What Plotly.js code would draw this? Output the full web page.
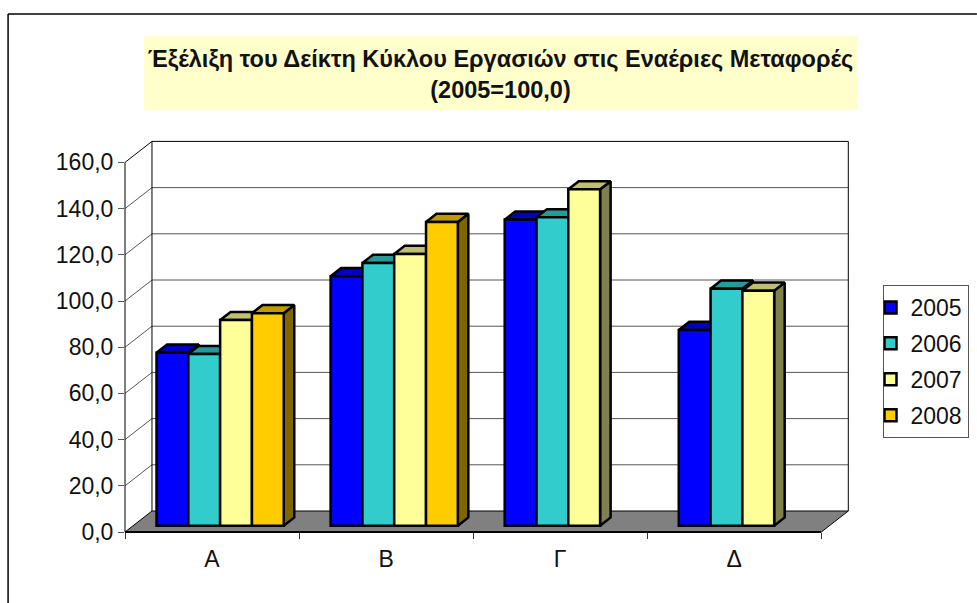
<!DOCTYPE html>
<html>
<head>
<meta charset="utf-8">
<script src="https://cdn.plot.ly/plotly-3.0.1.min.js"></script>
<style>html,body{margin:0;padding:0;background:#fff;overflow:hidden}#chart{width:977px;height:603px}</style>
</head>
<body>
<div id="chart"></div>
<script>
var categories = ['Α', 'Β', 'Γ', 'Δ'];
var seriesNames = ['2005', '2006', '2007', '2008'];
var values2005 = [74.9, 108.0, 132.5, 84.7];
var values2006 = [74.3, 113.7, 133.5, 102.6];
var values2007 = [89.0, 117.6, 145.6, 101.7];
var values2008 = [92.0, 131.5, null, null];
var frontColors = ['#0000FF', '#33CCCC', '#FFFF99', '#FFCC00'];
var topColors = ['#0000BF', '#269999', '#BFBF73', '#BF9900'];
var sideColors = ['#000080', '#1A6666', '#80804D', '#806600'];
var yTicks = [0, 20, 40, 60, 80, 100, 120, 140, 160];
var titleText = 'Έξέλιξη του Δείκτη Κύκλου Εργασιών στις Εναέριες Μεταφορές<br>(2005=100,0)';

// Plot frame in pixels (a little larger than the drawn walls so that no line is clipped)
var W = 977, H = 603, L = 124.5, R = 852, T = 139, B = 532;
var pxPerCat = 174.2, pxPerVal = 2.31;
var xMin = -0.5, xMax = xMin + (R - L) / pxPerCat, yMax = (B - T) / pxPerVal;
// Oblique projection of the depth axis, in data units
var depthX = 27 / pxPerCat, depthY = 21 / pxPerVal;
var floorStart = 0.30, floorDepth = 0.39;
var groupWidth = 127.3 / pxPerCat, slotWidth = groupWidth / 4;
var xWall = categories.length - 0.5 + depthX;

function px(x) { return (x - L) / (R - L); }
function py(y) { return (B - y) / (B - T); }

var allValues = [values2005, values2006, values2007, values2008];
var traces = [];
var wallColor = '#000000', gridColor = '#555555';
var edgeWidth = 2.5;

// Floor
traces.push({
  type: 'scatter', mode: 'lines', xaxis: 'x', yaxis: 'y', showlegend: false, hoverinfo: 'skip', cliponaxis: false,
  x: [xMin, categories.length - 0.5, xWall, xMin + depthX, xMin],
  y: [0, 0, depthY, depthY, 0], fill: 'toself', fillcolor: '#808080', line: { color: '#808080', width: 0 }
});
// Gridlines on both walls
yTicks.forEach(function (v) {
  if (v === 0) return;
  traces.push({
    type: 'scatter', mode: 'lines', xaxis: 'x', yaxis: 'y', showlegend: false, hoverinfo: 'skip', cliponaxis: false,
    x: [xMin, xMin + depthX, xWall], y: [v, v + depthY, v + depthY],
    line: { color: v === 160 ? wallColor : gridColor, width: 1 }
  });
});
// Wall outlines
traces.push({
  type: 'scatter', mode: 'lines', xaxis: 'x', yaxis: 'y', showlegend: false, hoverinfo: 'skip', cliponaxis: false,
  x: [xMin + depthX, xMin + depthX, null, xWall, xWall, null, xMin, xMin + depthX, xWall, categories.length - 0.5],
  y: [depthY, 160 + depthY, null, depthY, 160 + depthY, null, 0, depthY, depthY, 0],
  line: { color: wallColor, width: 1 }
});

var baseVal = floorStart * depthY;
var shiftX = floorStart * depthX;
var barDx = floorDepth * depthX, barDy = floorDepth * depthY;

// Top and side faces, painted left to right under the front faces
categories.forEach(function (c, ci) {
  allValues.forEach(function (vals, si) {
    var v = vals[ci];
    if (v === null) return;
    var left = ci + shiftX - groupWidth / 2 + si * slotWidth;
    var right = left + slotWidth;
    var top = baseVal + v;
    traces.push({
      type: 'scatter', mode: 'lines', xaxis: 'x2', yaxis: 'y', showlegend: false, hoverinfo: 'skip', cliponaxis: false,
      x: [right, right + barDx, right + barDx, right, right],
      y: [baseVal, baseVal + barDy, top + barDy, top, baseVal],
      fill: 'toself', fillcolor: sideColors[si], line: { color: '#000', width: edgeWidth }
    });
    traces.push({
      type: 'scatter', mode: 'lines', xaxis: 'x2', yaxis: 'y', showlegend: false, hoverinfo: 'skip', cliponaxis: false,
      x: [left, right, right + barDx, left + barDx, left],
      y: [top, top, top + barDy, top + barDy, top],
      fill: 'toself', fillcolor: topColors[si], line: { color: '#000', width: edgeWidth }
    });
  });
});

// Front faces
allValues.forEach(function (vals, si) {
  traces.push({
    type: 'bar', name: seriesNames[si], xaxis: 'x3', yaxis: 'y', legendgroup: seriesNames[si],
    x: categories.map(function (c, i) { return i + shiftX; }),
    y: vals, base: baseVal, cliponaxis: false,
    marker: { color: frontColors[si], line: { color: '#000', width: edgeWidth } }
  });
});

var tickFont = { family: 'Liberation Sans, Arial, sans-serif', size: 23, color: '#111' };
var layout = {
  width: W, height: H, autosize: false,
  paper_bgcolor: '#fff', plot_bgcolor: 'rgba(0,0,0,0)',
  margin: { l: L, r: W - R, t: T, b: H - B, pad: 0 },
  separators: ',.',
  barmode: 'group', bargap: 1 - groupWidth, bargroupgap: 0,
  title: {
    text: titleText, x: 500.5 / W, xanchor: 'center', y: 1 - 67 / H, yanchor: 'middle',
    font: { family: 'Liberation Sans, Arial, sans-serif', size: 23.5, color: '#111', weight: 'bold' }
  },
  xaxis: {
    type: 'linear', range: [xMin, xMax], anchor: 'y', showgrid: false, zeroline: false, showline: false,
    tickmode: 'array', tickvals: categories.map(function (c, i) { return i - 0.5; }).concat([categories.length - 0.5]),
    ticktext: ['', '', '', '', ''], ticks: 'outside', ticklen: 6, tickwidth: 1, tickcolor: '#333'
  },
  xaxis2: { type: 'linear', range: [xMin, xMax], overlaying: 'x', anchor: 'y', visible: false },
  xaxis3: {
    type: 'linear', range: [xMin, xMax], overlaying: 'x', anchor: 'y', showgrid: false, zeroline: false, showline: false,
    tickmode: 'array', tickvals: categories.map(function (c, i) { return i; }), ticktext: categories,
    ticks: 'outside', ticklen: 6, tickcolor: 'rgba(0,0,0,0)', tickfont: tickFont
  },
  yaxis: {
    range: [0, yMax], showgrid: false, zeroline: false, showline: false,
    tickmode: 'array', tickvals: yTicks, ticktext: yTicks.map(function (v) { return v.toFixed(1).replace('.', ','); }),
    ticks: 'outside', ticklen: 6, tickwidth: 1, tickcolor: '#555', tickfont: tickFont
  },
  legend: {
    xref: 'container', yref: 'container',
    x: 882.5 / W, xanchor: 'left', y: 1 - 285 / H, yanchor: 'top',
    bgcolor: '#fff', bordercolor: '#555', borderwidth: 1,
    font: { family: 'Liberation Sans, Arial, sans-serif', size: 23, color: '#111' },
    traceorder: 'grouped', tracegroupgap: 3, itemwidth: 30, indentation: -13, entrywidth: 57, entrywidthmode: 'pixels',
    itemclick: false, itemdoubleclick: false
  },
  shapes: [
    { type: 'rect', layer: 'below', xref: 'paper', yref: 'paper', x0: px(143.3), x1: px(858), y0: py(36), y1: py(110),
      fillcolor: '#FFFFCC', line: { width: 0 } },
    { type: 'line', layer: 'below', xref: 'paper', yref: 'paper', x0: px(7.5), x1: px(977), y0: py(14), y1: py(14),
      line: { color: '#000', width: 1.5 } },
    { type: 'line', layer: 'below', xref: 'paper', yref: 'paper', x0: px(7.5), x1: px(7.5), y0: py(14), y1: py(603),
      line: { color: '#000', width: 1.5 } },
    { type: 'line', layer: 'above', xref: 'x', yref: 'paper', x0: xMin, x1: categories.length - 0.5, y0: 0, y1: 0,
      line: { color: '#000', width: 2 } },
    { type: 'line', layer: 'above', xref: 'paper', yref: 'y', x0: 0, x1: 0, y0: 0, y1: 160,
      line: { color: '#000', width: 1 } }
  ]
};
Plotly.newPlot('chart', traces, layout, { displayModeBar: false, staticPlot: true });
</script>
</body>
</html>
